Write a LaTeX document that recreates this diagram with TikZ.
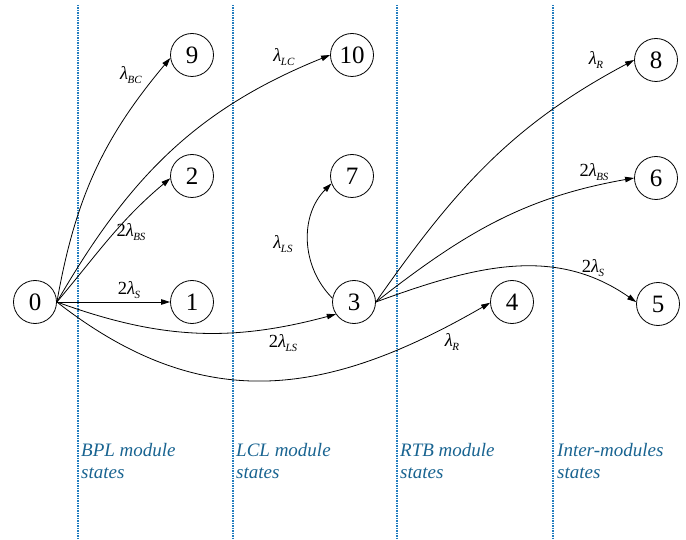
\documentclass[tikz,border=0pt]{standalone}
\usepackage{fontspec}
\setmainfont{Liberation Serif}
\usetikzlibrary{arrows.meta}
\definecolor{divblue}{RGB}{35,125,190}
\definecolor{txtblue}{RGB}{25,100,145}
\newcommand\lamsub[1]{\textit{λ}\kern-0.5pt\raisebox{-0.45ex}{\fontsize{11}{11}\selectfont\textit{#1}}}
\begin{document}
\begin{tikzpicture}[x=1pt,y=-1pt,
  state/.style={circle,draw,line width=0.8pt,minimum size=43pt,inner sep=0pt,font=\fontsize{25}{25}\selectfont},
  arr/.style={-{Triangle[length=9pt,width=5.5pt]},line width=0.8pt},
  lab/.style={font=\fontsize{18.5}{18.5}\selectfont,inner sep=0pt},
  divider/.style={dash pattern=on 1.5pt off 1pt,line width=1.2pt,divblue},
  captext/.style={anchor=base west,align=left,inner sep=0pt,text=txtblue,font=\fontsize{19}{22}\selectfont\itshape}]
\useasboundingbox (0,0) rectangle (686,540);
% dividers
\coordinate (d1t) at (78,5);   \coordinate (d1b) at (78,540);
\coordinate (d2t) at (233,5);  \coordinate (d2b) at (233,540);
\coordinate (d3t) at (397,5);  \coordinate (d3b) at (397,540);
\coordinate (d4t) at (553,5);  \coordinate (d4b) at (553,540);
\draw[divider] (d1t) -- (d1b);
\draw[divider] (d2t) -- (d2b);
\draw[divider] (d3t) -- (d3b);
\draw[divider] (d4t) -- (d4b);
% states
\node[state] (n0) at (35,302) {0};
\node[state] (n1) at (192,302) {1};
\node[state] (n2) at (192,176) {2};
\node[state] (n9) at (192,55) {9};
\node[state] (n10) at (352,55) {10};
\node[state] (n7) at (352,176) {7};
\node[state] (n3) at (354,302) {3};
\node[state] (n4) at (512,302) {4};
\node[state] (n5) at (658,304) {5};
\node[state] (n6) at (656,178) {6};
\node[state] (n8) at (656,60) {8};
% edges from 0
\draw[arr] (n0.east) to[out=80,in=230] (n9.188);
\draw[arr] (n0.east) to[out=60,in=202] (n10.west);
\draw[arr] (n0.east) to[out=50,in=220] (n2.186);
\draw[arr] (n0.east) -- (n1.west);
\draw[arr] (n0.east) to[out=-20,in=195] (n3.214);
\draw[arr] (n0.east) to[out=-38,in=210,looseness=1.1] (n4.182);
% edges from 3
\draw[arr] (n3.170) to[out=135,in=225] (n7.200);
\draw[arr] (n3.east) to[out=55,in=208] (n8.west);
\draw[arr] (n3.east) to[out=38,in=190] (n6.west);
\draw[arr] (n3.east) to[out=20,in=145] (n5.175);
% labels
\node[lab] (lbc) at (131,75) {\lamsub{BC}};
\node[lab] (llc) at (284,57) {\lamsub{LC}};
\node[lab] (lbs1) at (131,232) {2\lamsub{BS}};
\node[lab] (ls1) at (129,290) {2\lamsub{S}};
\node[lab] (lls2) at (283,343) {2\lamsub{LS}};
\node[lab] (lr1) at (452,342) {\lamsub{R}};
\node[lab] (lls1) at (283,244) {\lamsub{LS}};
\node[lab] (lr2) at (596,60) {\lamsub{R}};
\node[lab] (lbs2) at (594,172) {2\lamsub{BS}};
\node[lab] (ls2) at (593,268) {2\lamsub{S}};
% captions
\node[captext] (c1) at (81,478) {BPL module\\states};
\node[captext] (c2) at (236,478) {LCL module\\states};
\node[captext] (c3) at (400,478) {RTB module\\states};
\node[captext] (c4) at (557,478) {Inter-modules\\states};
\end{tikzpicture}
\end{document}
